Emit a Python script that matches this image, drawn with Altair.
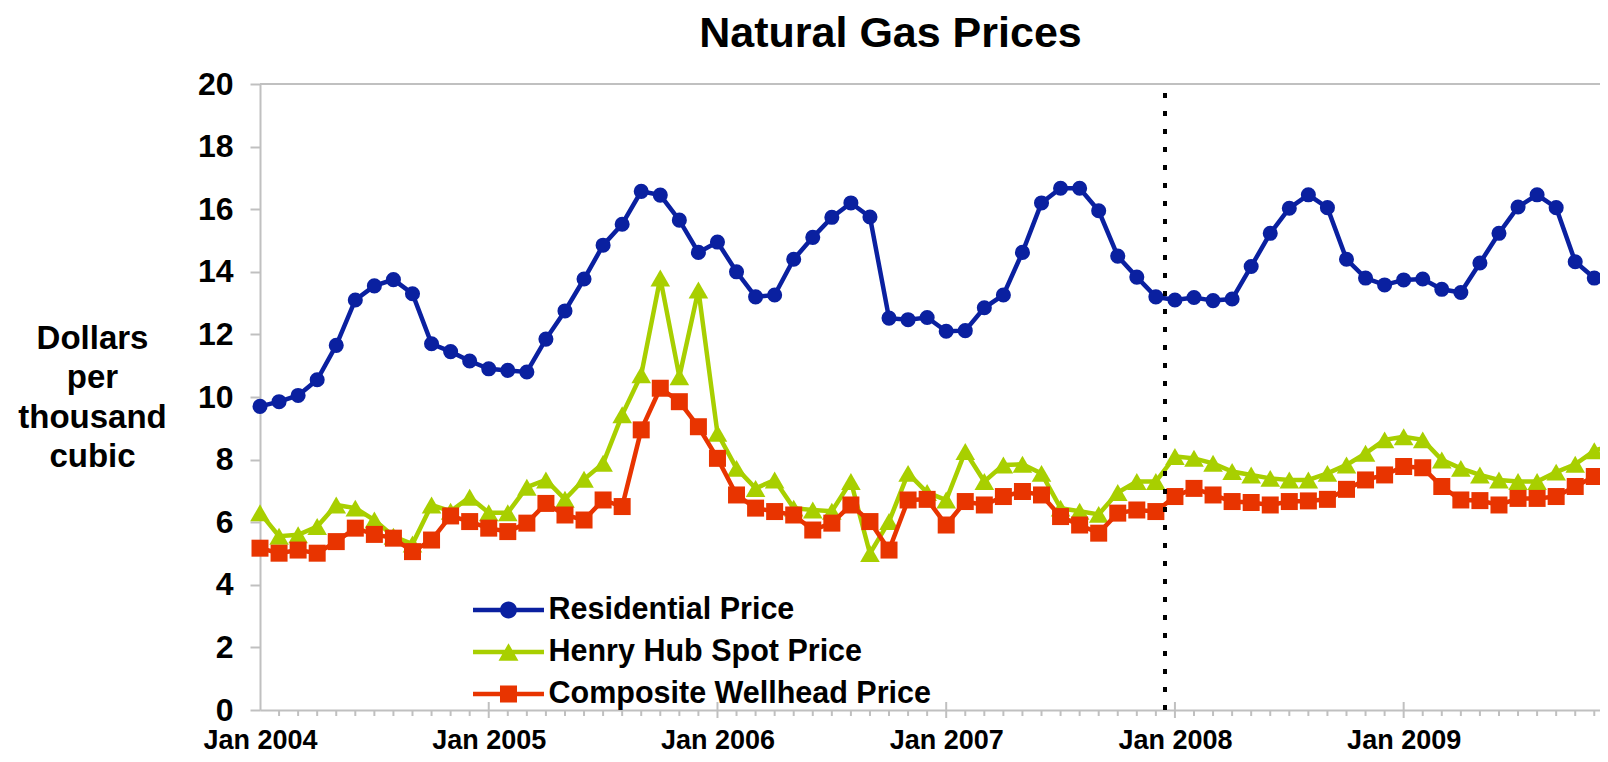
import altair as alt
import pandas as pd

FONT = "Liberation Sans, Arial, sans-serif"
GRAY = "#c0c0c0"

# ---- data -------------------------------------------------------------
title_text = "Natural Gas Prices"
months = [f"{y}-{m:02d}" for y in range(2004, 2010) for m in range(1, 13)]

residential = [
    9.70, 9.85, 10.05, 10.55, 11.65, 13.10, 13.55, 13.75, 13.30, 11.70, 11.45, 11.15,
    10.90, 10.85, 10.80, 11.85, 12.75, 13.77, 14.85, 15.52, 16.57, 16.45, 15.65, 14.62,
    14.95, 14.00, 13.20, 13.26, 14.40, 15.10, 15.74, 16.20, 15.75, 12.52, 12.47, 12.54,
    12.10, 12.12, 12.85, 13.26, 14.62, 16.20, 16.67, 16.67, 15.95, 14.50, 13.83, 13.20,
    13.10, 13.18, 13.08, 13.13, 14.17, 15.23, 16.03, 16.46, 16.05, 14.40, 13.80, 13.58,
    13.74, 13.77, 13.44, 13.34, 14.28, 15.23, 16.07, 16.46, 16.05, 14.32, 13.80, 13.50,
]
henry_hub = [
    6.30, 5.55, 5.60, 5.86, 6.55, 6.45, 6.07, 5.55, 5.30, 6.55, 6.35, 6.80,
    6.30, 6.30, 7.12, 7.35, 6.73, 7.37, 7.88, 9.43, 10.71, 13.80, 10.65, 13.42,
    8.84, 7.72, 7.08, 7.35, 6.45, 6.39, 6.35, 7.30, 5.00, 6.02, 7.56, 6.95,
    6.71, 8.26, 7.30, 7.83, 7.85, 7.56, 6.45, 6.35, 6.25, 6.95, 7.30, 7.30,
    8.10, 8.04, 7.88, 7.62, 7.51, 7.40, 7.35, 7.35, 7.56, 7.83, 8.20, 8.63,
    8.73, 8.63, 7.99, 7.72, 7.51, 7.35, 7.30, 7.30, 7.60, 7.85, 8.28, 8.50,
]
wellhead = [
    5.17, 5.01, 5.11, 5.01, 5.38, 5.81, 5.61, 5.49, 5.06, 5.43, 6.20, 6.02,
    5.81, 5.70, 5.97, 6.60, 6.23, 6.07, 6.71, 6.50, 8.95, 10.28, 9.85, 9.05,
    8.04, 6.87, 6.45, 6.34, 6.23, 5.75, 5.97, 6.55, 6.02, 5.11, 6.71, 6.73,
    5.91, 6.66, 6.55, 6.82, 6.98, 6.87, 6.18, 5.91, 5.65, 6.29, 6.39, 6.34,
    6.82, 7.08, 6.87, 6.66, 6.63, 6.55, 6.66, 6.68, 6.73, 7.05, 7.35, 7.51,
    7.78, 7.74, 7.14, 6.71, 6.69, 6.55, 6.76, 6.76, 6.82, 7.14, 7.46, 7.80,
]

series_names = ["Residential Price", "Henry Hub Spot Price", "Composite Wellhead Price"]
series_values = [residential, henry_hub, wellhead]
colors = ["#0a20a0", "#a8cf00", "#e83400"]
marker_shapes = ["circle", "triangle-up", "square"]
marker_sizes = [227, 384, 289]

year_ticks = [0, 12, 24, 36, 48, 60]   # January of each year (month index)
forecast_start = 47.5                  # between Dec 2007 and Jan 2008
x_domain_end = 70.3                    # chart is cut at the right edge

# legend symbols: line segment with the marker on it (unit = sqrt(size)/2 px)
legend_paths = [
    "M-1.71,-0.11H1.71V0.11H-1.71Z M0.41,0 A0.41,0.41 0 1,1 -0.41,0 A0.41,0.41 0 1,1 0.41,0Z",
    "M-1.71,-0.11H1.71V0.11H-1.71Z M0,-0.42 L0.48,0.42 L-0.48,0.42Z",
    "M-1.71,-0.11H1.71V0.11H-1.71Z M-0.41,-0.41H0.41V0.41H-0.41Z",
]

rows = []
for name, vals in zip(series_names, series_values):
    for i, (m, v) in enumerate(zip(months, vals)):
        rows.append({"series": name, "month": m, "idx": i, "price": v})
df = pd.DataFrame(rows)

tick_df = pd.DataFrame({
    "idx": list(range(len(months))),
    "major": [m.endswith("-01") for m in months],
})

# ---- scales / axes ----------------------------------------------------
x_scale = alt.Scale(domain=[0, x_domain_end], nice=False, zero=False)
y_scale = alt.Scale(domain=[0, 20], nice=False)

x_axis = alt.Axis(
    values=year_ticks,
    labelExpr="'Jan ' + (2004 + datum.value / 12)",
    ticks=False, tickSize=0, grid=False, title=None,
    domainColor=GRAY, domainWidth=2,
    labelFont=FONT, labelFontSize=27, labelFontWeight="bold", labelColor="black",
    labelPadding=17, labelFlush=False, labelOverlap=False,
)
y_axis = alt.Axis(
    values=list(range(0, 21, 2)),
    grid=False,
    domainColor=GRAY, domainWidth=2,
    tickColor=GRAY, tickWidth=2, tickSize=10,
    labelFont=FONT, labelFontSize=32, labelFontWeight="bold", labelColor="black",
    labelPadding=17,
    title=["Dollars", "per", "thousand", "cubic"],
    titleFont=FONT, titleFontSize=33, titleFontWeight="bold", titleColor="black",
    titleAngle=0, titleAlign="center", titleBaseline="alphabetic",
    titleX=-168, titleY=264, titleLineHeight=39.5,
)

X = alt.X("idx:Q", scale=x_scale, axis=x_axis)
Y = alt.Y("price:Q", scale=y_scale, axis=y_axis)

base = alt.Chart(df)

layers = []

top_line = base.mark_rule(color=GRAY, strokeWidth=2).encode(y=alt.datum(20))
layers.append(top_line)

minor = alt.Chart(tick_df).transform_filter("!datum.major").mark_rule(
    color=GRAY, strokeWidth=2
).encode(x=alt.X("idx:Q", scale=x_scale), y=alt.value(626), y2=alt.value(632))
major = alt.Chart(tick_df).transform_filter("datum.major && datum.idx > 0").mark_rule(
    color=GRAY, strokeWidth=2
).encode(x=alt.X("idx:Q", scale=x_scale), y=alt.value(618), y2=alt.value(634))
layers += [minor, major]

for name, col, shp, sz in zip(series_names, colors, marker_shapes, marker_sizes):
    sub = base.transform_filter(alt.datum.series == name)
    layers.append(sub.mark_line(color=col, strokeWidth=4.5).encode(x=X, y=Y))
    layers.append(sub.mark_point(filled=True, shape=shp, size=sz, color=col, opacity=1).encode(x=X, y=Y))

dotted = base.mark_rule(color="black", strokeDash=[5, 13], strokeWidth=3).encode(
    x=alt.datum(forecast_start), y=alt.datum(0), y2=alt.datum(20)
)
layers.append(dotted)

legend_def = alt.Legend(
    orient="none", legendX=227.5, legendY=505, title=None,
    symbolSize=1722, symbolStrokeWidth=0, symbolOpacity=1,
    labelFont=FONT, labelFontSize=30.5, labelFontWeight="bold", labelColor="black",
    labelOffset=19, rowPadding=5, padding=0, labelLimit=0,
)
legend_layer = base.transform_filter("false").mark_point(filled=True, opacity=1).encode(
    x=X, y=Y,
    shape=alt.Shape("series:N", scale=alt.Scale(domain=series_names, range=legend_paths),
                    legend=legend_def, sort=series_names),
    color=alt.Color("series:N", scale=alt.Scale(domain=series_names, range=colors),
                    legend=legend_def, sort=series_names),
)
layers.append(legend_layer)

# chart title, centred where the original (wider, cropped) chart had it
title_layer = alt.Chart(pd.DataFrame({"t": [title_text]})).mark_text(
    font=FONT, fontSize=43, fontWeight="bold", color="black",
    align="center", baseline="alphabetic",
).encode(text="t:N", x=alt.value(630.5), y=alt.value(-37))
layers.append(title_layer)

chart = alt.layer(*layers).properties(
    width=1340, height=626,
    padding={"left": 252, "top": 76, "right": 0, "bottom": 44},
    autosize=alt.AutoSizeParams(type="none"),
    background="white",
).configure_view(stroke=None)

chart.save("out.html", embed_options={"renderer": "svg", "actions": False})
